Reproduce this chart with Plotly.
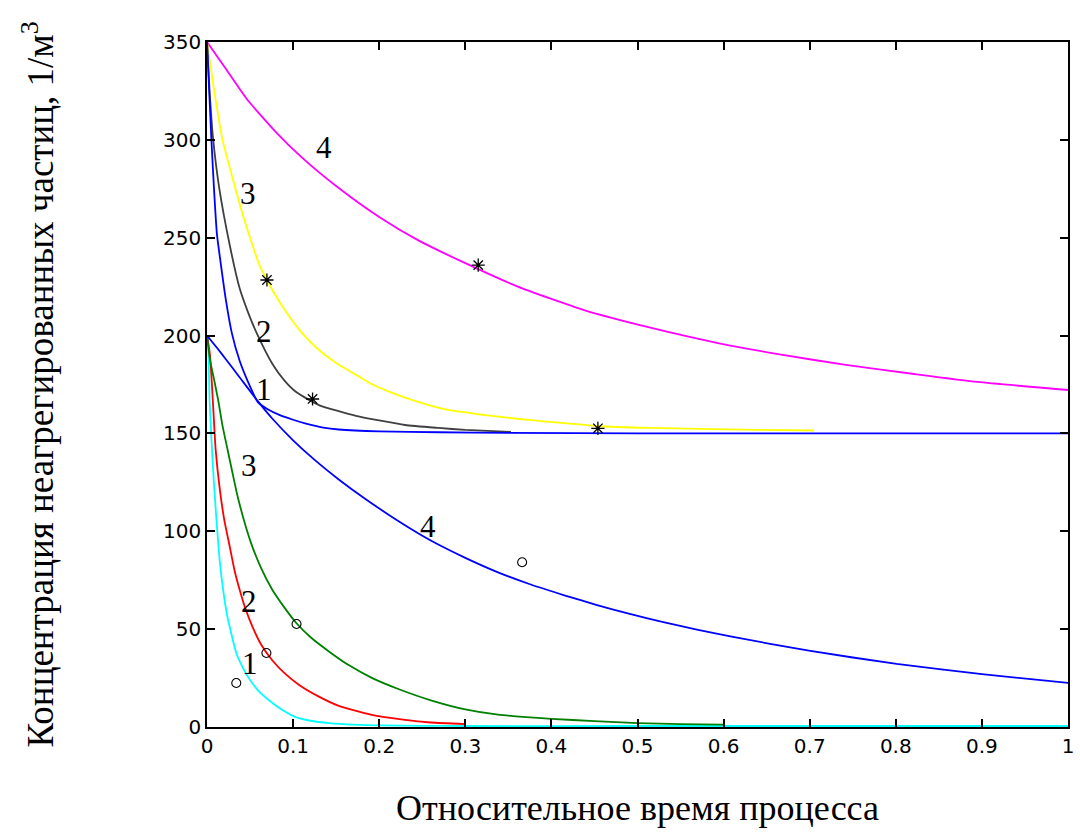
import plotly.graph_objects as go

# ---- data ----
# upper family (start at 350, tend to 150)
u1_x = [0, 0.005, 0.008, 0.0115, 0.015, 0.022, 0.029, 0.038, 0.048, 0.059, 0.07, 0.084, 0.1, 0.115, 0.135, 0.153, 0.2, 0.269, 0.35, 0.5, 0.7, 1.0]
u1_y = [350, 301, 276, 252, 240, 218, 201, 187, 176, 166, 162.5, 159.5, 157, 155, 153, 152, 151, 150.6, 150.3, 150, 150, 150]

u2_x = [0, 0.003, 0.007, 0.014, 0.0265, 0.038, 0.048, 0.058, 0.076, 0.09, 0.104, 0.13, 0.173, 0.23, 0.269, 0.3, 0.353]
u2_y = [350, 325, 301, 276, 246, 224, 211.5, 201, 185.5, 177, 171, 164.5, 159, 154.3, 152.8, 151.8, 150.8]

u3_x = [0, 0.004, 0.008, 0.018, 0.03, 0.04, 0.05, 0.06, 0.07, 0.083, 0.096, 0.113, 0.13, 0.15, 0.169, 0.19, 0.215, 0.246, 0.28, 0.323, 0.36, 0.4, 0.453, 0.515, 0.572, 0.64, 0.705]
u3_y = [350, 338, 326, 300, 280, 264, 250, 237, 228, 218, 209.5, 200, 192.6, 186, 181, 175.5, 170.7, 166, 162, 159.4, 157.5, 155.8, 153.8, 152.8, 152.3, 151.8, 151.5]

u4_x = [0, 0.02, 0.046, 0.08, 0.111, 0.153, 0.2, 0.246, 0.3, 0.361, 0.438, 0.515, 0.592, 0.665, 0.742, 0.819, 0.895, 1.0]
u4_y = [350, 337.5, 321, 304, 290.7, 275.4, 260.6, 248.5, 237, 225, 213, 204, 196.3, 190.4, 185, 180.5, 176.3, 172.2]

# lower family (start at 200, tend to 0)
l1_x = [0, 0.001, 0.003, 0.006, 0.008, 0.01, 0.015, 0.023, 0.034, 0.042, 0.05, 0.063, 0.076, 0.09, 0.103, 0.12, 0.142, 0.17, 0.2, 0.25, 0.3, 0.5, 0.7, 1.0]
l1_y = [200, 199, 167, 140, 125, 112, 84, 58, 37.8, 30, 24, 17, 12.3, 8, 5, 3.2, 2, 1.2, 0.8, 0.6, 0.5, 0.5, 0.5, 0.5]

l2_x = [0, 0.0035, 0.007, 0.01, 0.015, 0.02, 0.0265, 0.032, 0.038, 0.045, 0.053, 0.063, 0.076, 0.09, 0.107, 0.13, 0.153, 0.19, 0.23, 0.26, 0.3]
l2_y = [200, 190, 165, 142, 121, 106, 92, 80, 70, 60, 51, 42, 34, 27.5, 21.5, 15.5, 10.8, 6.3, 3.6, 2.3, 1.5]

l3_x = [0, 0.0035, 0.008, 0.013, 0.018, 0.024, 0.03, 0.036, 0.05, 0.063, 0.076, 0.09, 0.104, 0.12, 0.142, 0.165, 0.192, 0.223, 0.261, 0.3, 0.338, 0.4, 0.45, 0.5, 0.55, 0.6]
l3_y = [200, 187.5, 178, 167, 154, 141.5, 129, 117, 95.5, 81, 70, 61, 53, 46, 38.5, 31.5, 25, 19.3, 13.5, 9, 6.3, 4.2, 3, 2, 1.5, 1.2]

l4_x = [0, 0.012, 0.023, 0.038, 0.059, 0.076, 0.1, 0.125, 0.153, 0.184, 0.223, 0.261, 0.3, 0.338, 0.376, 0.415, 0.453, 0.491, 0.53, 0.569, 0.611, 0.699, 0.801, 0.9, 1.0]
l4_y = [200, 193.5, 187.3, 178.6, 166.5, 157.5, 146.5, 136.5, 126.5, 116.5, 105, 95, 86.4, 79, 72.8, 67.3, 62.3, 57.8, 53.6, 49.8, 46, 39, 32.2, 27, 22.5]

# markers
star_x = [0.0696, 0.1226, 0.315, 0.454]
star_y = [228.4, 167.6, 236.0, 152.6]
circ_x = [0.034, 0.069, 0.104, 0.366]
circ_y = [22.5, 37.8, 52.6, 84.2]

# curve number labels
lab_text = ["4", "3", "2", "1", "3", "4", "2", "1"]
lab_x = [0.136, 0.048, 0.066, 0.066, 0.049, 0.257, 0.049, 0.05]
lab_y = [296, 272.5, 202, 172.5, 133.5, 102.4, 63.9, 32.7]

x_ticks = [0, 0.1, 0.2, 0.3, 0.4, 0.5, 0.6, 0.7, 0.8, 0.9, 1]
x_ticktext = ["0", "0.1", "0.2", "0.3", "0.4", "0.5", "0.6", "0.7", "0.8", "0.9", "1"]
y_ticks = [0, 50, 100, 150, 200, 250, 300, 350]

x_title = "Относительное время процесса"
y_title = "Концентрация неагрегированных частиц, 1/м<sup>3</sup>"

# ---- figure ----
serif = "Liberation Serif, Times New Roman, serif"
fig = go.Figure()
curves = [
    (l1_x, l1_y, "#00FFFF"),
    (l2_x, l2_y, "#FF0000"),
    (l3_x, l3_y, "#008000"),
    (l4_x, l4_y, "#0000FF"),
    (u4_x, u4_y, "#FF00FF"),
    (u3_x, u3_y, "#FFFF00"),
    (u2_x, u2_y, "#404040"),
    (u1_x, u1_y, "#0000FF"),
]
for cx, cy, col in curves:
    fig.add_trace(go.Scatter(x=cx, y=cy, mode="lines",
                             line=dict(color=col, width=1.8, shape="spline", smoothing=0.5),
                             showlegend=False, hoverinfo="skip"))

fig.add_trace(go.Scatter(x=star_x, y=star_y, mode="markers",
                         marker=dict(symbol="asterisk-open", size=11, color="black",
                                     line=dict(color="black", width=1.3)),
                         showlegend=False))
fig.add_trace(go.Scatter(x=circ_x, y=circ_y, mode="markers",
                         marker=dict(symbol="circle-open", size=9, color="black",
                                     line=dict(color="black", width=1.1)),
                         showlegend=False))

for t, ax_, ay_ in zip(lab_text, lab_x, lab_y):
    fig.add_annotation(x=ax_, y=ay_, text=t, showarrow=False,
                       font=dict(family=serif, size=31, color="black"))

fig.add_annotation(xref="paper", yref="paper", x=0.5, y=0, yshift=-81,
                   text=x_title, showarrow=False, yanchor="middle",
                   font=dict(family=serif, size=36, color="black"))
fig.add_annotation(xref="paper", yref="paper", x=0, y=0.5, xshift=-169,
                   text=y_title, showarrow=False, textangle=-90, xanchor="center",
                   font=dict(family=serif, size=37, color="black"))

axis_common = dict(showline=True, linecolor="black", linewidth=1.5, mirror="ticks",
                   ticks="inside", ticklen=8, tickwidth=1.5, tickcolor="black",
                   showgrid=False, zeroline=False,
                   tickfont=dict(family="DejaVu Sans, Arial, sans-serif", size=20, color="black"))

fig.update_xaxes(range=[0, 1], tickvals=x_ticks, ticktext=x_ticktext, **axis_common)
fig.update_yaxes(range=[0, 350], tickvals=y_ticks, **axis_common)

fig.update_layout(width=1080, height=839,
                  margin=dict(l=207, r=6, t=42, b=112),
                  paper_bgcolor="white", plot_bgcolor="white")

fig.write_html("out.html", config={"displayModeBar": False},
               post_script="document.body.style.margin='0px';document.body.style.overflow='hidden';")
